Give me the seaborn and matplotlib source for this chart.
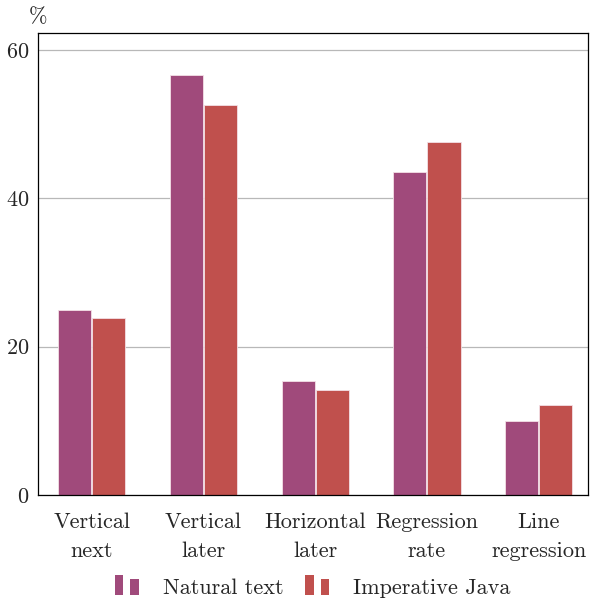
import pandas as pd
import matplotlib.pyplot as plt
import seaborn as sns
from matplotlib.legend_handler import HandlerBase
from matplotlib.patches import Rectangle

categories = ["Vertical\nnext", "Vertical\nlater", "Horizontal\nlater", "Regression\nrate", "Line\nregression"]
natural_text = [25.0, 56.6, 15.3, 43.6, 10.0]
imperative_java = [23.9, 52.6, 14.2, 47.6, 12.1]
series = ["Natural text", "Imperative Java"]
colors = ["#A04A7B", "#C0504D"]


class TwoBarHandler(HandlerBase):
    def create_artists(self, legend, orig_handle, xdescent, ydescent, width, height, fontsize, trans):
        w = width * 0.36
        bars = []
        for x0, h in [(0.0, 1.3), (0.66, 1.05)]:
            r = Rectangle((x0 * width - xdescent, -ydescent - 1), w, height * h,
                          facecolor=orig_handle.get_facecolor(), edgecolor="none", transform=trans)
            bars.append(r)
        return bars


sns.set_theme(style="white")
plt.rcParams['font.family'] = 'serif'
plt.rcParams['font.serif'] = ['cmr10', 'DejaVu Serif']
plt.rcParams['axes.formatter.use_mathtext'] = True
plt.rcParams['mathtext.fontset'] = 'cm'

df = pd.DataFrame({
    "category": categories * 2,
    "value": natural_text + imperative_java,
    "series": [series[0]] * len(categories) + [series[1]] * len(categories),
})

fig = plt.figure(figsize=(5.9, 6.02), dpi=100)
ax = fig.add_axes([0.0644, 0.178, 0.932, 0.767])

sns.barplot(data=df, x="category", y="value", hue="series", palette=colors, saturation=1,
            width=0.61, gap=0.03, edgecolor="#f3e0e6", linewidth=0.6, ax=ax, legend=False)

ax.set_xlim(-0.48, 4.44)
ax.set_ylim(0, 62.3)
ax.set_yticks([0, 20, 40, 60])
ax.yaxis.grid(True, color="#b8b8b8", linewidth=0.9)
ax.set_axisbelow(True)
ax.set_xlabel("")
ax.set_ylabel("")
for s in ax.spines.values():
    s.set_color("black")
    s.set_linewidth(0.9)
ax.tick_params(axis="x", length=0, labelsize=16, pad=13)
for lbl in ax.get_xticklabels():
    lbl.set_linespacing(1.6)
ax.tick_params(axis="y", direction="in", length=4, color="#888888", labelsize=16, pad=6)
ax.text(0.0, 1.035, "%", transform=ax.transAxes, fontsize=16, ha="center", va="center")

handles = [Rectangle((0, 0), 1, 1, facecolor=c) for c in colors]
fig.legend(handles, series, loc="center", bbox_to_anchor=(0.53, 0.023), ncol=2, frameon=False,
           fontsize=16, handler_map={Rectangle: TwoBarHandler()}, handlelength=1.05,
           columnspacing=1.0, handletextpad=1.1)

fig.savefig("out.png", dpi=100)
